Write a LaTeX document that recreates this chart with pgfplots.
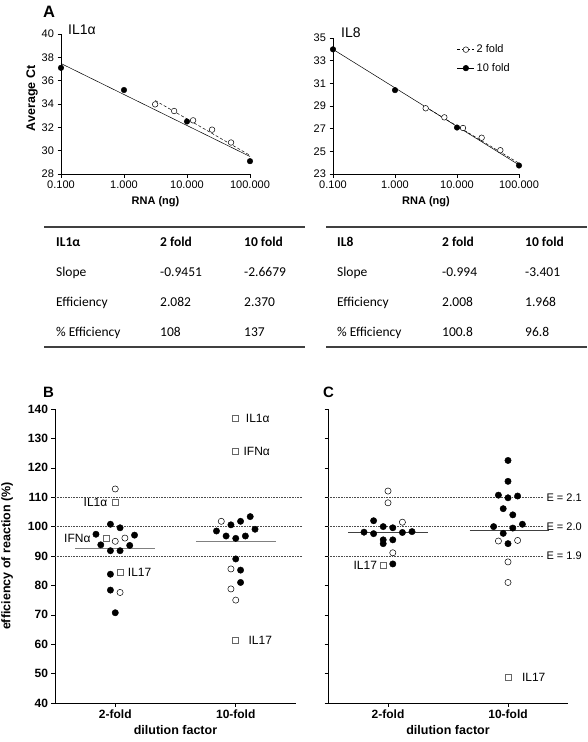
\documentclass[border=0pt]{standalone}
\usepackage{fontspec}
\setmainfont{Liberation Sans}
\newfontfamily\calibri{Carlito}
\usepackage{pgfplots}
\pgfplotsset{compat=1.18}
\begin{document}
\begin{tikzpicture}[x=1pt,y=1pt]
\useasboundingbox (0,0) rectangle (587,-742);
\pgfplotsset{
 gp/.style={scale only axis, axis lines=left, axis line style={-, line width=0.6pt},
   tick align=outside, major tick length=3.5pt, tick style={line width=0.6pt, black},
   /pgf/number format/assume math mode=true, clip=false},
 fillc/.style={only marks, mark=*, mark size=2.8pt, mark options={fill=black, draw=black}},
 openc/.style={only marks, mark=*, mark size=2.8pt, mark options={fill=white, draw=black, line width=0.5pt}},
 fillB/.style={only marks, mark=*, mark size=3.2pt, mark options={fill=black, draw=black}},
 openB/.style={only marks, mark=*, mark size=3.1pt, mark options={fill=white, draw=black, line width=0.5pt}},
 sqB/.style={only marks, mark=square*, mark size=3pt, mark options={fill=white, draw=black!60, line width=0.7pt}},
}
% ---------- Panel A left ----------
\node[anchor=base west, font=\bfseries\fontsize{16.5}{18}\selectfont, inner sep=0] at (43pt,-17pt) {A};
\begin{axis}[gp, at={(61pt,-174pt)}, anchor=south west, width=189pt, height=140pt,
  xmode=log, xmin=0.1, xmax=100, ymin=28, ymax=40, xminorticks=false,
  xtick={0.1,1,10,100}, xticklabels={0.100,1.000,10.000,100.000},
  ytick={28,30,...,40},
  tick label style={font=\fontsize{11}{13}\selectfont},
  xlabel={RNA (ng)}, ylabel={Average Ct},
  xlabel style={font=\bfseries\fontsize{11}{13}\selectfont, yshift=-1pt},
  ylabel style={font=\bfseries\fontsize{12.5}{14}\selectfont, at={(axis description cs:-0.153,0.54)}, anchor=center}]
\addplot[black, line width=0.5pt] coordinates {(0.1,37.47) (100,29.5)};
\addplot[black, line width=0.5pt, densely dashed] coordinates {(3.125,34.3) (100,29.6)};
\addplot[openc] coordinates {(3.125,33.97) (6.25,33.4) (12.5,32.6) (25,31.8) (50,30.7)};
\addplot[fillc] coordinates {(0.1,37.1) (1,35.2) (10,32.5) (100,29.1)};
\end{axis}
\node[anchor=base west, font=\fontsize{14}{16}\selectfont, inner sep=0] at (68pt,-34pt) {IL1α};
% ---------- Panel A right ----------
\begin{axis}[gp, at={(333pt,-174pt)}, anchor=south west, width=186pt, height=136pt,
  xmode=log, xmin=0.1, xmax=100, ymin=23, ymax=35, xminorticks=false,
  xtick={0.1,1,10,100}, xticklabels={0.100,1.000,10.000,100.000},
  ytick={23,25,...,35},
  tick label style={font=\fontsize{11}{13}\selectfont},
  xlabel={RNA (ng)},
  xlabel style={font=\bfseries\fontsize{11}{13}\selectfont, yshift=-1pt},
  legend style={at={(0.65,0.98)}, anchor=north west, draw=none, fill=none,
    font=\fontsize{11}{13}\selectfont, row sep=5pt},
  legend cell align=left]
\addplot[black, line width=0.5pt, forget plot] coordinates {(0.1,34.0) (100,23.8)};
\addplot[black, line width=0.5pt, densely dashed, forget plot] coordinates {(3.125,28.9) (100,23.95)};
\addplot[openc, forget plot] coordinates {(3.125,28.8) (6.25,28.0) (12.5,27.06) (25,26.2) (50,25.1)};
\addplot[fillc, forget plot] coordinates {(0.1,34.0) (1,30.4) (10,27.1) (100,23.75)};
\addlegendimage{black, line width=0.5pt, densely dashed, mark=*, mark size=2.8pt, mark options={solid, fill=white, draw=black}}
\addlegendentry{2 fold}
\addlegendimage{black, line width=0.5pt, mark=*, mark size=2.8pt, mark options={fill=black}}
\addlegendentry{10 fold}
\end{axis}
\node[anchor=base west, font=\fontsize{14}{16}\selectfont, inner sep=0] at (341pt,-37pt) {IL8};
% ---------- Tables ----------
\draw[line width=1.3pt, black!75] (44pt,-227pt) -- (305pt,-227pt);
\draw[line width=1.3pt, black!75] (44pt,-347pt) -- (305pt,-347pt);
\draw[line width=1.3pt, black!75] (326pt,-227pt) -- (587pt,-227pt);
\draw[line width=1.3pt, black!75] (326pt,-347pt) -- (587pt,-347pt);
\begin{scope}[every node/.style={anchor=base west, inner sep=0, font=\calibri\fontsize{13.5}{16}\selectfont}]
\node[font=\calibri\bfseries\fontsize{13.5}{16}\selectfont] at (56pt,-246pt) {IL1α};
\node[font=\calibri\bfseries\fontsize{13.5}{16}\selectfont] at (160pt,-246pt) {2 fold};
\node[font=\calibri\bfseries\fontsize{13.5}{16}\selectfont] at (244pt,-246pt) {10 fold};
\node at (56pt,-276pt) {Slope}; \node at (160pt,-276pt) {-0.9451}; \node at (244pt,-276pt) {-2.6679};
\node at (56pt,-306pt) {Efficiency}; \node at (160pt,-306pt) {2.082}; \node at (244pt,-306pt) {2.370};
\node at (56pt,-336pt) {\% Efficiency}; \node at (160pt,-336pt) {108}; \node at (244pt,-336pt) {137};
\node[font=\calibri\bfseries\fontsize{13.5}{16}\selectfont] at (337pt,-246pt) {IL8};
\node[font=\calibri\bfseries\fontsize{13.5}{16}\selectfont] at (442pt,-246pt) {2 fold};
\node[font=\calibri\bfseries\fontsize{13.5}{16}\selectfont] at (525pt,-246pt) {10 fold};
\node at (337pt,-276pt) {Slope}; \node at (442pt,-276pt) {-0.994}; \node at (525pt,-276pt) {-3.401};
\node at (337pt,-306pt) {Efficiency}; \node at (442pt,-306pt) {2.008}; \node at (525pt,-306pt) {1.968};
\node at (337pt,-336pt) {\% Efficiency}; \node at (442pt,-336pt) {100.8}; \node at (525pt,-336pt) {96.8};
\end{scope}
% ---------- Panel B ----------
\node[anchor=base west, font=\bfseries\fontsize{15}{17}\selectfont, inner sep=0] at (43pt,-397pt) {B};
\begin{axis}[gp, at={(55pt,-703pt)}, anchor=south west, width=241pt, height=294pt,
  xmin=0.5, xmax=2.5, ymin=40, ymax=140,
  xtick={1,2}, xticklabels={2-fold,10-fold}, ytick={40,50,...,140},
  tick label style={font=\bfseries\fontsize{12}{14}\selectfont},
  xlabel={dilution factor}, ylabel={efficiency of reaction (\%)},
  label style={font=\bfseries\fontsize{12.5}{14}\selectfont},
  ylabel style={at={(axis description cs:-0.199,0.5)}, anchor=center}]
\addplot[black!70, densely dotted, line width=0.6pt] coordinates {(0.5,110) (2.55,110)};
\addplot[black!70, densely dotted, line width=0.6pt] coordinates {(0.5,100) (2.55,100)};
\addplot[black!70, densely dotted, line width=0.6pt] coordinates {(0.5,90) (2.55,90)};
\addplot[black!50, line width=1pt] coordinates {(0.67,92.7) (1.33,92.7)};
\addplot[black!50, line width=1pt] coordinates {(1.67,95.1) (2.33,95.1)};
\addplot[fillB] coordinates {(0.96,100.8) (1.04,99.6) (0.84,97.4) (1.16,97.1) (0.88,93.8) (1.12,93.6) (0.96,91.8) (1.04,91.8) (0.96,83.8) (0.96,78.4) (1.0,70.7)};
\addplot[openB] coordinates {(1.0,112.8) (1.0,95.0) (1.08,96.1) (1.04,77.6)};
\addplot[sqB] coordinates {(1.0,108.1) (0.93,96.1) (1.04,84.6)};
\addplot[fillB] coordinates {(1.96,100.6) (2.04,101.8) (2.12,103.4) (1.84,98.5) (1.92,96.8) (2.0,96.0) (2.08,96.8) (2.16,99.1) (2.0,89.0) (2.04,85.2) (2.04,81.0)};
\addplot[openB] coordinates {(1.88,101.8) (1.96,85.6) (1.96,78.8) (2.0,75.0)};
\addplot[sqB] coordinates {(2.0,136.8) (2.0,125.5) (2.0,61.2)};
\begin{scope}[every node/.style={inner sep=0, font=\fontsize{12}{14}\selectfont}]
\node[anchor=east] at (axis cs:0.936,108.1) {IL1α};
\node[anchor=east] at (axis cs:0.796,96.1) {IFNα};
\node[anchor=west] at (axis cs:1.104,84.6) {IL17};
\node[anchor=west] at (axis cs:2.083,136.8) {IL1α};
\node[anchor=west] at (axis cs:2.064,125.5) {IFNα};
\node[anchor=west] at (axis cs:2.105,61.2) {IL17};
\end{scope}
\end{axis}
% ---------- Panel C ----------
\node[anchor=base west, font=\bfseries\fontsize{15}{17}\selectfont, inner sep=0] at (323pt,-397pt) {C};
\begin{axis}[gp, at={(328pt,-703pt)}, anchor=south west, width=240pt, height=294pt,
  xmin=0.5, xmax=2.5, ymin=40, ymax=140,
  xtick={1,2}, xticklabels={2-fold,10-fold}, ytick={40,50,...,140}, yticklabels={},
  tick label style={font=\bfseries\fontsize{12}{14}\selectfont},
  xlabel={dilution factor},
  label style={font=\bfseries\fontsize{12.5}{14}\selectfont}]
\addplot[black!70, densely dotted, line width=0.6pt] coordinates {(0.5,110) (2.3,110)};
\addplot[black!70, densely dotted, line width=0.6pt] coordinates {(0.5,100) (2.3,100)};
\addplot[black!70, densely dotted, line width=0.6pt] coordinates {(0.5,90) (2.3,90)};
\addplot[black!75, line width=0.9pt] coordinates {(0.67,98.0) (1.33,98.0)};
\addplot[black!75, line width=0.9pt] coordinates {(1.68,98.8) (2.34,98.8)};
\addplot[fillB] coordinates {(0.88,102.0) (0.96,100.0) (1.04,99.6) (0.8,98.1) (0.88,97.6) (1.12,98.0) (1.2,98.3) (0.96,95.5) (1.04,95.5) (0.96,94.2) (1.04,87.3)};
\addplot[openB] coordinates {(1.0,112.1) (1.0,108.1) (1.12,101.5) (1.04,91.1)};
\addplot[sqB] coordinates {(0.96,86.8)};
\addplot[fillB] coordinates {(2.0,122.5) (2.0,115.4) (1.92,110.7) (2.0,109.8) (2.08,110.4) (1.96,106.1) (2.04,104.0) (2.12,100.8) (1.88,100.0) (2.04,99.5) (1.96,97.7) (2.0,94.2)};
\addplot[openB] coordinates {(1.92,95.1) (2.08,95.3) (2.0,88.0) (2.0,81.0)};
\addplot[sqB] coordinates {(2.0,48.8)};
\begin{scope}[every node/.style={inner sep=0, font=\fontsize{12}{14}\selectfont}]
\node[anchor=east] at (axis cs:0.91,86.8) {IL17};
\node[anchor=west] at (axis cs:2.115,48.8) {IL17};
\node[anchor=west, font=\fontsize{11}{13}\selectfont] at (axis cs:2.32,110) {E = 2.1};
\node[anchor=west, font=\fontsize{11}{13}\selectfont] at (axis cs:2.32,100) {E = 2.0};
\node[anchor=west, font=\fontsize{11}{13}\selectfont] at (axis cs:2.32,90) {E = 1.9};
\end{scope}
\end{axis}
\end{tikzpicture}
\end{document}
